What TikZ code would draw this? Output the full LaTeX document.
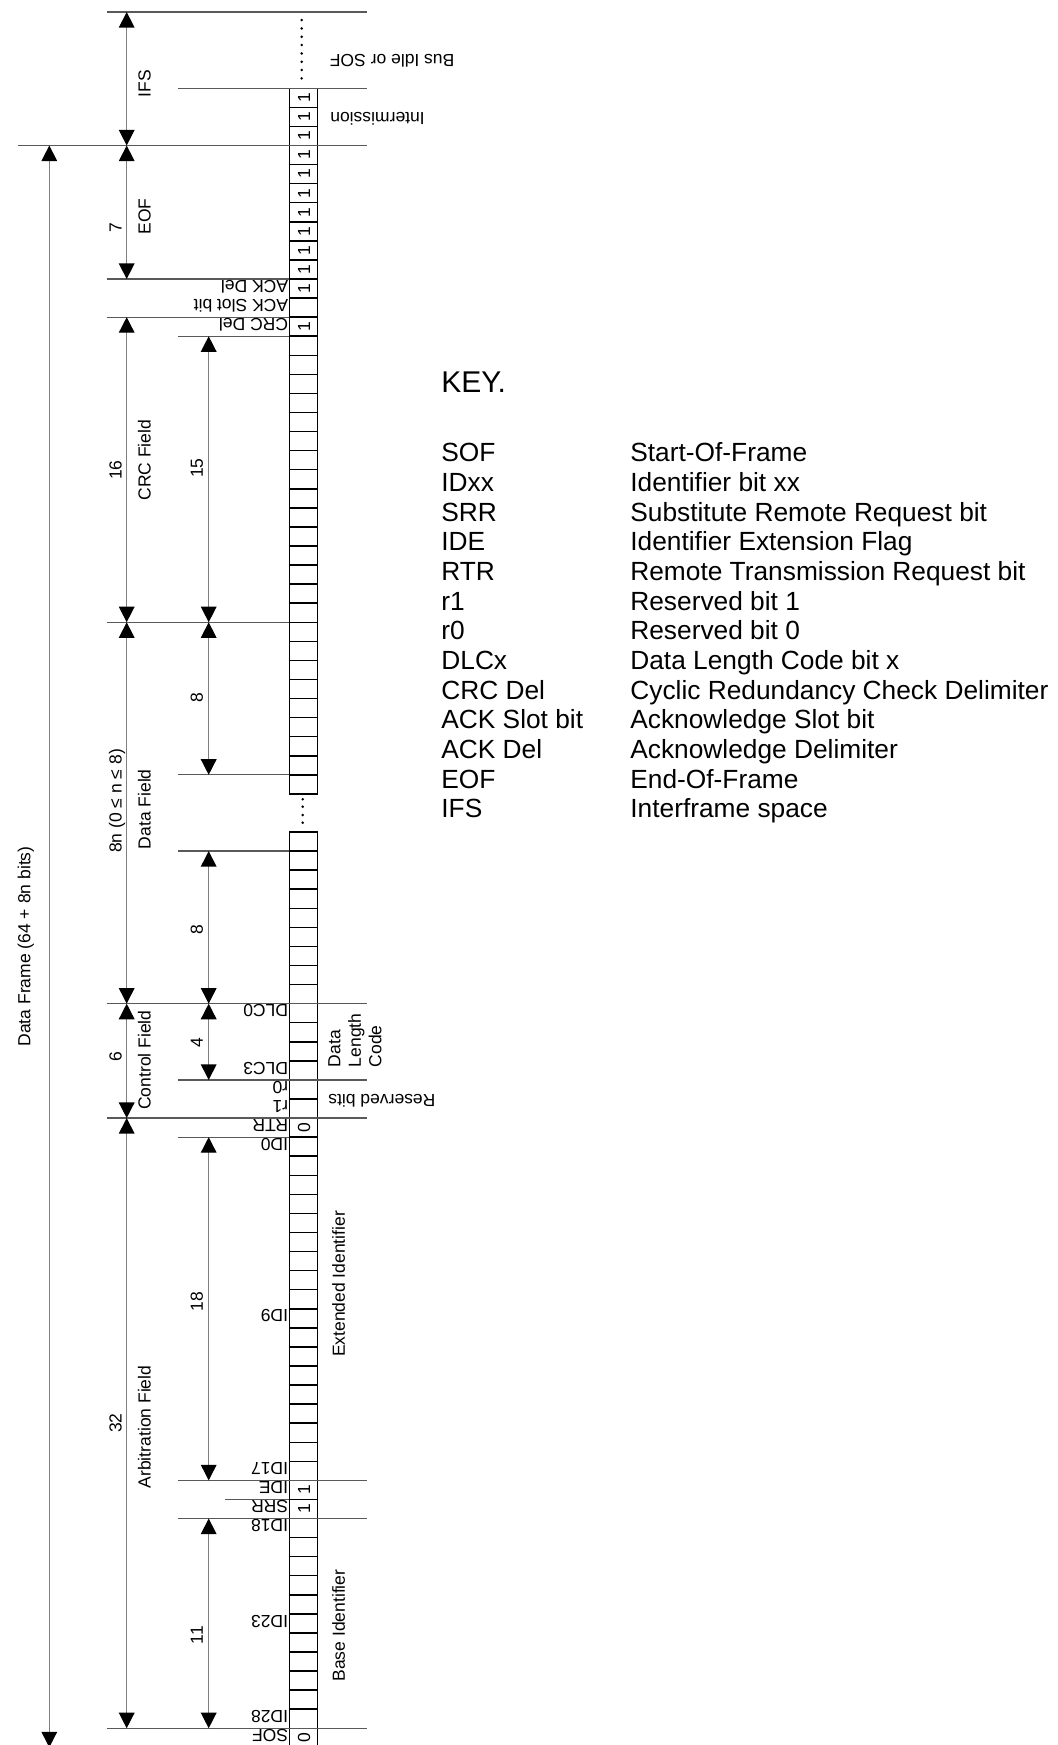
\documentclass[tikz,border=0pt]{standalone}
\usepackage{fontspec}
\setmainfont{Liberation Sans}
\usetikzlibrary{arrows.meta}

\tikzset{
  cell/.style={draw=black,line width=0.75pt},
  bound/.style={draw=black!65,line width=0.6pt},
  dimarrow/.style={draw=black!50,line width=0.7pt,
    {Triangle[length=7.8pt,width=7.8pt,color=black]}-{Triangle[length=7.8pt,width=7.8pt,color=black]}},
  smalltext/.style={font=\fontsize{8.75}{10.25}\selectfont,inner sep=0pt},
  uplabel/.style={smalltext,rotate=90,anchor=base},
  bitval/.style={smalltext,rotate=90},
  bitname/.style={smalltext,rotate=180,anchor=west,inner sep=0.4pt},
  flipnote/.style={smalltext,rotate=180,anchor=east},
  keytext/.style={font=\fontsize{13.15}{15}\selectfont,anchor=base west,inner sep=0pt},
}

\begin{document}
\begin{tikzpicture}[x=0.5pt,y=9.535pt]
  \useasboundingbox (0,-0.8757) rectangle (1058,90.632);

  % bit column, one cell per bit
  \foreach \k in {-1,...,46}
    \draw[cell] (289.3,\k) rectangle (317.3,\k+1);
  \foreach \k in {49,...,85}
    \draw[cell] (289.3,\k) rectangle (317.3,\k+1);
  \foreach \y in {86.52,86.96,87.39,87.83,88.27,88.70,89.14,89.58}
    \fill (301.7,\y) circle(0.7pt);
  \foreach \y in {47.49,47.89,48.33,48.72}
    \fill (302.7,\y) circle(0.7pt);

  % field boundaries
  \foreach \lev/\xl/\xr in {90/106.7/367.3, 86/178.3/367.3, 83/18.3/367.3,
      76/106.7/289.3, 74/106.7/289.3, 73/178.3/289.3, 58/106.7/289.3,
      50/178.3/289.3, 46/178.3/289.3, 38/106.7/367.3, 34/178.3/367.3,
      32/106.7/367.3, 31/178.3/289.3, 13/178.3/367.3, 12/225/289.3,
      11/178.3/367.3, 0/106.7/367.3}
    \draw[bound] (\xl,\lev) -- (\xr,\lev);

  % bit values
  \foreach \k in {11,12,73,75,76,...,85}
    \node[bitval] (one-\k) at (304,\k+0.5) {1};
  \node[bitval] (zero-sof) at (304,-0.5) {0};
  \node[bitval] (zero-rtr) at (304,31.5) {0};

  % bit names
  \foreach \k/\tag/\txt in {-1/sof/SOF, 0/id28/ID28, 5/id23/ID23, 10/id18/ID18,
      11/srr/SRR, 12/ide/IDE, 13/id17/ID17, 21/id9/ID9, 30/id0/ID0, 31/rtr/RTR,
      32/rone/r1, 33/rzero/r0, 34/dlc3/DLC3, 37/dlc0/DLC0, 73/crcdel/CRC Del,
      74/ackslot/ACK Slot bit, 75/ackdel/ACK Del}
    \node[bitname] (name-\tag) at (289.3,\k+0.62) {\txt};

  % field lengths
  \coordinate (ifs-top) at (126.7,90);
  \coordinate (ifs-bot) at (126.7,83);
  \draw[dimarrow] (ifs-top) -- (ifs-bot);
  \node[uplabel] (ifs-name) at (150.7,86.25) {IFS};
  \foreach \tag/\ytop/\ybot/\ylen/\len/\yname/\field in {
      eof/83/76/78.7/7/79.27/EOF,
      crc/74/58/65.98/16/66.5/CRC Field,
      data/58/38/48.63/{8n (0 ≤ n ≤ 8)}/48.2/Data Field,
      ctrl/38/32/35.22/6/35.04/Control Field,
      arb/32/0/16/32/15.8/Arbitration Field}{
    \coordinate (\tag-top) at (126.7,\ytop);
    \coordinate (\tag-bot) at (126.7,\ybot);
    \draw[dimarrow] (\tag-top) -- (\tag-bot);
    \node[uplabel] (\tag-len) at (121.7,\ylen) {\len};
    \node[uplabel] (\tag-name) at (150.7,\yname) {\field};
  }
  \foreach \tag/\ytop/\ybot/\ylen/\len in {crcbits/73/58/66.08/15,
      datahi/58/50/54.03/8, datalo/46/38/41.86/8, dlc/38/34/35.94/4,
      extid/31/13/22.37/18, baseid/11/0/4.89/11}{
    \coordinate (\tag-top) at (208.7,\ytop);
    \coordinate (\tag-bot) at (208.7,\ybot);
    \draw[dimarrow] (\tag-top) -- (\tag-bot);
    \node[uplabel] (\tag-len) at (203,\ylen) {\len};
  }
  \coordinate (frame-top) at (49.3,83);
  \coordinate (frame-bot) at (49.3,-1);
  \draw[dimarrow] (frame-top) -- (frame-bot);
  \node[uplabel] (frame-name) at (30.5,41) {Data Frame (64 + 8n bits)};

  % notes right of the column
  \node[flipnote] (busidle) at (329.5,87.46) {Bus Idle or SOF};
  \node[flipnote] (intermission) at (330,84.4) {Intermission};
  \node[flipnote] (reserved) at (328,32.9) {Reserved bits};
  \node[smalltext,rotate=90,align=left,anchor=north west] (dlc-note) at (328,34.65) {Data\\Length\\Code};
  \node[uplabel] (extid-note) at (345,23.3) {Extended Identifier};
  \node[uplabel] (baseid-note) at (345,5.39) {Base Identifier};

  % key
  \node[keytext,font=\fontsize{15}{18}\selectfont] (key-title) at (441,70.03) {KEY.};
  \foreach \abbr/\desc [count=\row from 0] in {SOF/Start-Of-Frame,
      IDxx/Identifier bit xx, SRR/Substitute Remote Request bit,
      IDE/Identifier Extension Flag, RTR/Remote Transmission Request bit,
      r1/Reserved bit 1, r0/Reserved bit 0, DLCx/Data Length Code bit x,
      CRC Del/Cyclic Redundancy Check Delimiter, ACK Slot bit/Acknowledge Slot bit,
      ACK Del/Acknowledge Delimiter, EOF/End-Of-Frame, IFS/Interframe space}{
    \node[keytext] (key-abbr-\row) at (441,{66.42-1.557*\row}) {\abbr};
    \node[keytext] (key-desc-\row) at (630,{66.42-1.557*\row}) {\desc};
  }
\end{tikzpicture}
\end{document}
